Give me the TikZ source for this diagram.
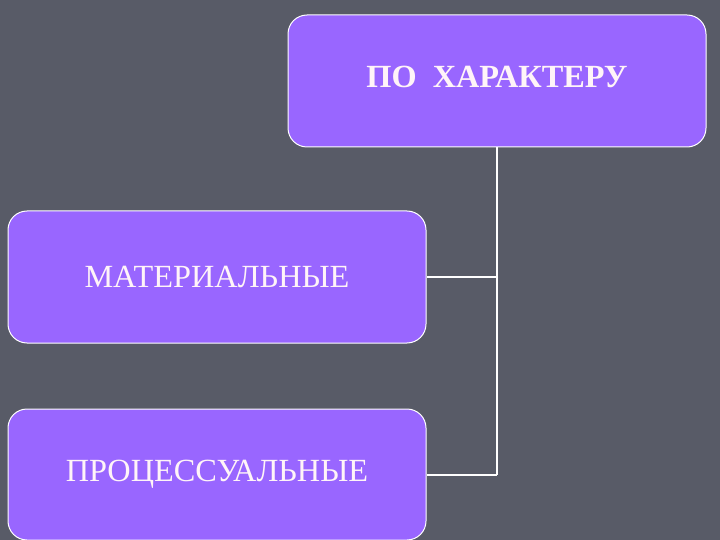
\documentclass[tikz,border=0pt]{standalone}
\usepackage{fontspec}
\setmainfont{Liberation Serif}
\definecolor{bgc}{HTML}{585B67}
\definecolor{boxc}{HTML}{9966FF}
\definecolor{txtc}{HTML}{FFF4F8}
\begin{document}
\begin{tikzpicture}[x=1pt,y=-1pt,
  catbox/.style={draw=white, line width=1pt, fill=boxc, rounded corners=19pt,
    minimum width=418pt, minimum height=132pt, inner sep=0pt,
    text=txtc, font=\fontsize{32.3}{38}\selectfont},
  link/.style={draw=white, line width=2pt}]
\fill[bgc] (0,0) rectangle (720,540);
\useasboundingbox (0,0) rectangle (720,540);
\node[catbox, font=\fontsize{32.3}{38}\selectfont\bfseries] (top) at (497,81) {ПО\ \ ХАРАКТЕРУ\rule[-8pt]{0pt}{0pt}};
\node[catbox] (mat) at (217,277) {МАТЕРИАЛЬНЫЕ};
\node[catbox, minimum height=131pt] (proc) at (217,474.5) {ПРОЦЕССУАЛЬНЫЕ};
\coordinate (j1) at (top.south |- mat.east);
\coordinate (j2) at (top.south |- proc.east);
\draw[link] (top.south) -- (j2);
\draw[link] (mat.east) -- (j1);
\draw[link] (proc.east) -- (j2);
\end{tikzpicture}
\end{document}
